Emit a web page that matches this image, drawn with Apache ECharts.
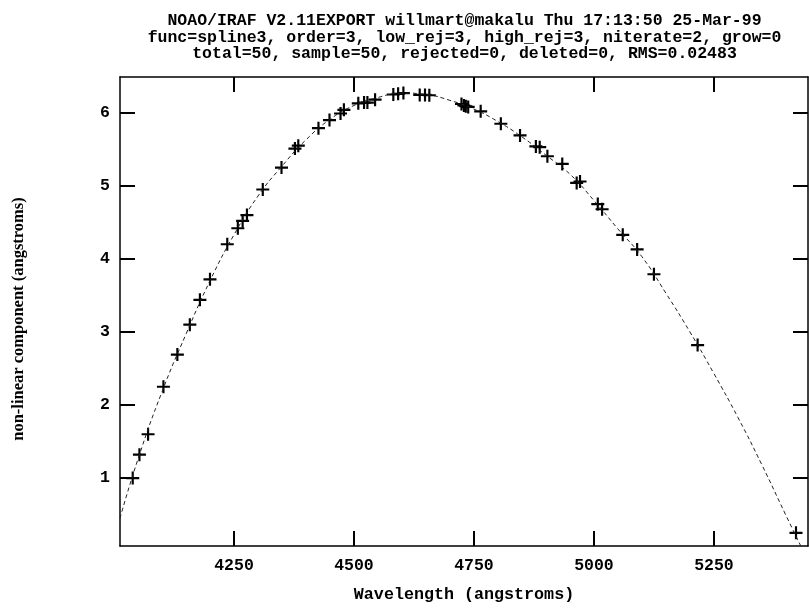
<!DOCTYPE html>
<html>
<head>
<meta charset="utf-8">
<script src="https://cdn.jsdelivr.net/npm/echarts@6/dist/echarts.min.js"></script>
<style>html,body{margin:0;padding:0;background:#fff}#c{width:809px;height:608px}</style>
</head>
<body>
<div id="c"></div>
<script>
const titleLines = [
  'NOAO/IRAF V2.11EXPORT willmart@makalu Thu 17:13:50 25-Mar-99',
  'func=spline3, order=3, low_rej=3, high_rej=3, niterate=2, grow=0',
  'total=50, sample=50, rejected=0, deleted=0, RMS=0.02483'
];
const xName = 'Wavelength (angstroms)';
const yName = 'non-linear component (angstroms)';
const xTicks = [4250, 4500, 4750, 5000, 5250];
const yTicks = [1, 2, 3, 4, 5, 6];

// measured points (wavelength, non-linear component)
const pointX = [4039, 4053, 4071, 4103, 4132, 4158, 4179, 4200, 4236, 4258,
  4268, 4277, 4310, 4349, 4377, 4384, 4426, 4449, 4472, 4479,
  4509, 4521, 4528, 4544, 4582, 4592, 4603, 4637, 4648, 4657,
  4724, 4729, 4733, 4738, 4764, 4806, 4846, 4879, 4887, 4903,
  4934, 4964, 4971, 5008, 5017, 5060, 5090, 5125, 5216, 5421];
const pointY = [1.00, 1.32, 1.60, 2.25, 2.69, 3.10, 3.44, 3.72, 4.20, 4.42,
  4.52, 4.60, 4.95, 5.25, 5.51, 5.55, 5.79, 5.90, 5.99, 6.04,
  6.13, 6.14, 6.14, 6.18, 6.25, 6.26, 6.27, 6.245, 6.245, 6.24,
  6.12, 6.10, 6.09, 6.08, 6.02, 5.85, 5.69, 5.54, 5.53, 5.405,
  5.30, 5.04, 5.06, 4.75, 4.68, 4.33, 4.13, 3.79, 2.82, 0.25];

// fitted curve
const fitX = [4012.5, 4050, 4100, 4150, 4200, 4250, 4300, 4350, 4400, 4450,
  4500, 4550, 4600, 4650, 4700, 4750, 4800, 4850, 4900, 4950,
  5000, 5050, 5100, 5150, 5200, 5250, 5300, 5350, 5400, 5431];
const fitY = [0.45, 1.26, 2.18, 2.97, 3.70, 4.33, 4.86, 5.27, 5.63, 5.91,
  6.10, 6.21, 6.27, 6.25, 6.17, 6.05, 5.88, 5.67, 5.42, 5.16,
  4.80, 4.41, 4.03, 3.53, 3.00, 2.43, 1.83, 1.18, 0.49, 0.07];

const FONT = "'Liberation Mono', 'DejaVu Sans Mono', monospace";
const YFONT = "'Liberation Serif', serif";
const XMIN = 4012.5, XMAX = 5446, YMIN = 0.07, YMAX = 6.49;
const plus = 'path://M5,0H7V5H12V7H7V12H5V7H0V5H5Z';

const chart = echarts.init(document.getElementById('c'), null, {renderer: 'canvas'});
const axisLine = {show: true, onZero: false, lineStyle: {color: '#000', width: 1.5}};
const tickStyle = {color: '#000', width: 2};
const plain = v => String(v);
function xAx(pos, labels) {
  return {
    type: 'value', position: pos, min: XMIN, max: XMAX,
    axisLine: axisLine,
    axisTick: {show: true, inside: true, length: 15, customValues: xTicks, lineStyle: tickStyle},
    axisLabel: labels ? {show: true, customValues: xTicks, margin: 11, color: '#000', formatter: plain,
      fontFamily: FONT, fontWeight: 'bold', fontSize: 16.5} : {show: false},
    splitLine: {show: false},
    name: labels ? xName : '', nameLocation: 'middle', nameGap: 40,
    nameTextStyle: {color: '#000', fontFamily: FONT, fontWeight: 'bold', fontSize: 16.7}
  };
}
function yAx(pos, labels) {
  return {
    type: 'value', position: pos, min: YMIN, max: YMAX,
    axisLine: axisLine,
    axisTick: {show: true, inside: true, length: 15, customValues: yTicks, lineStyle: tickStyle},
    axisLabel: labels ? {show: true, customValues: yTicks, margin: 10, color: '#000', formatter: plain,
      fontFamily: FONT, fontWeight: 'bold', fontSize: 16.5} : {show: false},
    splitLine: {show: false}
  };
}

const titleY = [21, 37.5, 54];
const graphics = titleLines.map((t, i) => ({
  type: 'text', x: 464.5, y: titleY[i],
  style: {text: t, fill: '#000', font: "bold 16.5px " + FONT, textAlign: 'center', textVerticalAlign: 'middle'}
}));
graphics.push({
  type: 'text', x: 18.5, y: 319, rotation: Math.PI / 2,
  style: {text: yName, fill: '#000', font: "bold 16.5px " + YFONT, textAlign: 'center', textVerticalAlign: 'middle'}
});

chart.setOption({
  animation: false,
  backgroundColor: '#fff',
  grid: {left: 120, right: 1, top: 77, bottom: 60, containLabel: false},
  xAxis: [xAx('bottom', true), xAx('top', false)],
  yAxis: [yAx('left', true), yAx('right', false)],
  graphic: graphics,
  series: [
    {
      type: 'line', xAxisIndex: 0, yAxisIndex: 0,
      data: fitX.map((x, i) => [x, fitY[i]]),
      showSymbol: false, smooth: 0.5, clip: true,
      lineStyle: {color: '#222', width: 1, type: [4, 3]}
    },
    {
      type: 'scatter', xAxisIndex: 0, yAxisIndex: 0,
      data: pointX.map((x, i) => [x, pointY[i]]),
      symbol: plus, symbolSize: 13,
      itemStyle: {color: '#000', opacity: 1}
    }
  ]
});
</script>
</body>
</html>
